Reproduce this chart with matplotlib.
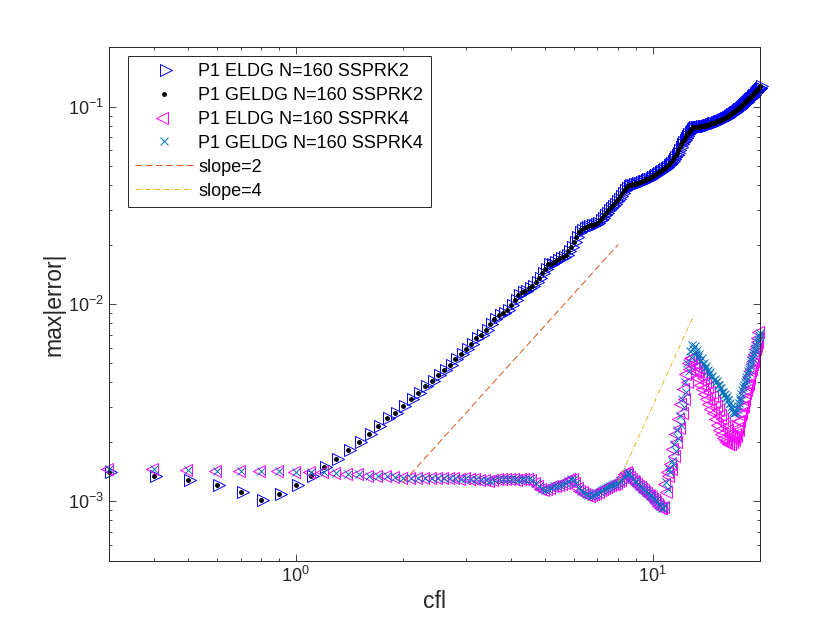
import matplotlib.pyplot as plt
import numpy as np
from matplotlib.path import Path
from matplotlib.ticker import NullFormatter

plt.rcParams['font.family'] = ['Liberation Sans', 'DejaVu Sans']
plt.rcParams['mathtext.fontset'] = 'custom'
plt.rcParams['mathtext.rm'] = 'Liberation Sans'
plt.rcParams['mathtext.it'] = 'Liberation Sans:italic'

# cfl grid (step 0.1 as seen in the marker spacing)
cfl = [0.3, 0.4, 0.5, 0.6, 0.7, 0.8, 0.9,
       1.0, 1.1, 1.2, 1.3, 1.4, 1.5, 1.6, 1.7, 1.8, 1.9,
       2.0, 2.1, 2.2, 2.3, 2.4, 2.5, 2.6, 2.7, 2.8, 2.9,
       3.0, 3.1, 3.2, 3.3, 3.4, 3.5, 3.6, 3.7, 3.8, 3.9,
       4.0, 4.1, 4.2, 4.3, 4.4, 4.5, 4.6, 4.7, 4.8, 4.9,
       5.0, 5.1, 5.2, 5.3, 5.4, 5.5, 5.6, 5.7, 5.8, 5.9,
       6.0, 6.1, 6.2, 6.3, 6.4, 6.5, 6.6, 6.7, 6.8, 6.9,
       7.0, 7.1, 7.2, 7.3, 7.4, 7.5, 7.6, 7.7, 7.8, 7.9,
       8.0, 8.1, 8.2, 8.3, 8.4, 8.5, 8.6, 8.7, 8.8, 8.9,
       9.0, 9.1, 9.2, 9.3, 9.4, 9.5, 9.6, 9.7, 9.8, 9.9,
       10.0, 10.1, 10.2, 10.3, 10.4, 10.5, 10.6, 10.7, 10.8, 10.9,
       11.0, 11.1, 11.2, 11.3, 11.4, 11.5, 11.6, 11.7, 11.8, 11.9,
       12.0, 12.1, 12.2, 12.3, 12.4, 12.5, 12.6, 12.7, 12.8, 12.9,
       13.0, 13.1, 13.2, 13.3, 13.4, 13.5, 13.6, 13.7, 13.8, 13.9,
       14.0, 14.1, 14.2, 14.3, 14.4, 14.5, 14.6, 14.7, 14.8, 14.9,
       15.0, 15.1, 15.2, 15.3, 15.4, 15.5, 15.6, 15.7, 15.8, 15.9,
       16.0, 16.1, 16.2, 16.3, 16.4, 16.5, 16.6, 16.7, 16.8, 16.9,
       17.0, 17.1, 17.2, 17.3, 17.4, 17.5, 17.6, 17.7, 17.8, 17.9,
       18.0, 18.1, 18.2, 18.3, 18.4, 18.5, 18.6, 18.7, 18.8, 18.9,
       19.0, 19.1, 19.2, 19.3, 19.4, 19.5, 19.6, 19.7, 19.8, 19.9,
       20.0]

# errors, in units of 1e-3
eldg_rk2 = [1.41, 1.34, 1.28, 1.21, 1.12, 1.02, 1.09,
            1.21, 1.35, 1.49, 1.64, 1.82, 2.00, 2.19, 2.42, 2.63, 2.81,
            3.03, 3.30, 3.55, 3.83, 4.06, 4.36, 4.64, 4.92, 5.28, 5.57,
            5.89, 6.30, 6.72, 6.98, 7.35, 7.90, 8.40, 8.80, 8.95, 9.30,
            9.89, 10.5, 11.1, 11.5, 11.6, 12.0, 12.4, 12.9, 13.6, 14.3,
            15.1, 15.9, 16.0, 16.3, 16.7, 17.1, 17.4, 17.7, 18.6, 19.5,
            20.5, 21.9, 23.1, 23.7, 24.2, 24.6, 24.8, 25.0, 25.2, 25.4,
            25.6, 26.6, 27.4, 28.2, 29.0, 29.8, 30.6, 31.4, 32.2, 33.2,
            34.2, 35.3, 36.4, 37.6, 38.8, 39.8, 40.0, 40.2, 40.4, 40.6,
            40.9, 41.2, 41.5, 41.8, 42.1, 42.5, 42.8, 43.2, 43.6, 44.0,
            44.4, 44.9, 45.4, 45.9, 46.5, 47.1, 47.7, 48.4, 49.1, 49.7,
            50.4, 51.2, 52.1, 53.1, 54.2, 55.4, 56.8, 58.4, 60.2, 62.2,
            64.5, 66.2, 68.0, 69.6, 71.2, 72.8, 74.2, 75.6, 77.0, 78.2,
            78.6, 78.8, 78.9, 79.0, 79.1, 79.2, 79.4, 79.6, 79.8, 80.0,
            80.2, 80.5, 80.8, 81.1, 81.4, 81.8, 82.2, 82.6, 83.0, 83.4,
            83.8, 84.2, 84.6, 85.0, 85.4, 85.8, 86.2, 86.7, 87.2, 87.7,
            88.3, 88.9, 89.5, 90.1, 90.8, 91.5, 92.2, 92.9, 93.6, 94.4,
            95.2, 96.0, 96.8, 97.6, 98.4, 99.2, 100, 101, 102, 103,
            104, 105, 106, 107, 108, 109, 110, 111, 112, 113,
            114, 115, 117, 118, 119, 120, 121, 123, 124, 125,
            127]

# GELDG SSPRK2 dots sit right on the ELDG SSPRK2 triangles
geldg_rk2 = list(eldg_rk2)

eldg_rk4 = [1.46, 1.45, 1.44, 1.43, 1.43, 1.42, 1.42,
            1.41, 1.41, 1.40, 1.39, 1.38, 1.37, 1.35, 1.35, 1.34, 1.33,
            1.32, 1.32, 1.31, 1.32, 1.31, 1.31, 1.32, 1.31, 1.31, 1.30,
            1.31, 1.30, 1.29, 1.28, 1.28, 1.27, 1.28, 1.29, 1.30, 1.30,
            1.30, 1.29, 1.28, 1.29, 1.30, 1.30, 1.28, 1.24, 1.19, 1.15,
            1.14, 1.15, 1.17, 1.19, 1.20, 1.21, 1.22, 1.24, 1.27, 1.30,
            1.29, 1.24, 1.17, 1.13, 1.11, 1.09, 1.08, 1.07, 1.08, 1.09,
            1.10, 1.12, 1.14, 1.15, 1.17, 1.18, 1.19, 1.21, 1.22, 1.23,
            1.24, 1.26, 1.28, 1.33, 1.38, 1.40, 1.37, 1.33, 1.30, 1.27,
            1.25, 1.22, 1.20, 1.18, 1.16, 1.14, 1.12, 1.10, 1.08, 1.06,
            1.05, 1.03, 1.01, 0.99, 0.97, 0.95, 0.93, 0.92, 0.94, 1.22,
            1.12, 1.40, 1.35, 1.55, 1.45, 1.85, 1.70, 2.20, 2.00, 2.60,
            2.35, 3.10, 2.80, 3.70, 3.30, 4.40, 4.00, 5.00, 4.70, 5.30,
            5.30, 4.90, 5.00, 4.50, 4.80, 4.20, 4.60, 3.90, 4.40, 3.70,
            4.20, 3.50, 4.00, 3.30, 3.80, 3.10, 3.60, 2.95, 3.40, 2.80,
            3.20, 2.60, 3.05, 2.45, 2.90, 2.30, 2.75, 2.20, 2.60, 2.10,
            2.50, 2.05, 2.40, 2.00, 2.30, 1.95, 2.20, 1.95, 2.15, 2.00,
            2.10, 2.05, 2.20, 2.15, 2.35, 2.30, 2.55, 2.55, 2.75, 2.80,
            3.00, 3.05, 3.25, 3.35, 3.55, 3.65, 3.85, 3.95, 4.20, 4.30,
            4.55, 4.70, 4.95, 5.15, 5.40, 5.60, 5.90, 6.15, 6.45, 6.75,
            7.20]

geldg_rk4 = [1.46, 1.45, 1.44, 1.43, 1.43, 1.42, 1.42,
             1.41, 1.41, 1.40, 1.39, 1.38, 1.37, 1.35, 1.35, 1.34, 1.33,
             1.32, 1.32, 1.31, 1.32, 1.31, 1.31, 1.32, 1.31, 1.31, 1.30,
             1.31, 1.30, 1.29, 1.28, 1.28, 1.27, 1.28, 1.29, 1.30, 1.30,
             1.30, 1.29, 1.28, 1.29, 1.30, 1.30, 1.28, 1.24, 1.19, 1.15,
             1.14, 1.15, 1.17, 1.19, 1.20, 1.21, 1.22, 1.24, 1.27, 1.30,
             1.29, 1.24, 1.17, 1.13, 1.11, 1.09, 1.08, 1.07, 1.08, 1.09,
             1.10, 1.12, 1.14, 1.15, 1.17, 1.18, 1.19, 1.21, 1.22, 1.23,
             1.24, 1.26, 1.28, 1.33, 1.38, 1.40, 1.37, 1.33, 1.30, 1.27,
             1.25, 1.22, 1.20, 1.18, 1.16, 1.14, 1.12, 1.10, 1.08, 1.06,
             1.05, 1.03, 1.01, 0.99, 0.97, 0.95, 0.93, 0.92, 0.95, 1.25,
             1.15, 1.45, 1.40, 1.60, 1.55, 1.95, 1.80, 2.30, 2.10, 2.70,
             2.45, 3.30, 3.00, 4.00, 3.60, 5.00, 4.60, 5.80, 5.40, 6.20,
             5.90, 6.10, 5.60, 5.85, 5.40, 5.55, 5.15, 5.30, 4.95, 5.05,
             4.75, 4.85, 4.60, 4.65, 4.40, 4.50, 4.25, 4.30, 4.10, 4.15,
             4.00, 4.05, 3.90, 3.90, 3.75, 3.75, 3.60, 3.60, 3.45, 3.50,
             3.35, 3.40, 3.25, 3.25, 3.10, 3.15, 3.00, 2.95, 2.85, 2.80,
             2.80, 2.85, 2.95, 3.05, 3.15, 3.25, 3.35, 3.50, 3.65, 3.80,
             3.90, 4.00, 4.10, 4.25, 4.40, 4.55, 4.70, 4.85, 5.00, 5.20,
             5.35, 5.50, 5.65, 5.85, 6.00, 6.20, 6.40, 6.60, 6.80, 6.95,
             7.10]

# reference slope lines
slope2_x = [2.0, 8.0]
slope2_y = [1.25e-3, 2.0e-2]
slope4_x = [8.0, 13.0]
slope4_y = [1.25e-3, 8.7e-3]

labels = ['P1 ELDG N=160 SSPRK2', 'P1 GELDG N=160 SSPRK2',
          'P1 ELDG N=160 SSPRK4', 'P1 GELDG N=160 SSPRK4',
          'slope=2', 'slope=4']

dark = (0.15, 0.15, 0.15)

# MATLAB-like triangles, centred on their centroid
tri_right = Path([(-1, -1.5), (2, 0), (-1, 1.5), (-1, -1.5)],
                 [Path.MOVETO, Path.LINETO, Path.LINETO, Path.CLOSEPOLY])
tri_left = Path([(1, -1.5), (-2, 0), (1, 1.5), (1, -1.5)],
                [Path.MOVETO, Path.LINETO, Path.LINETO, Path.CLOSEPOLY])

fig = plt.figure(figsize=(8.4, 6.3), dpi=100)
ax = fig.add_axes([0.13, 0.11, 0.775, 0.815])

x = np.array(cfl)
ax.plot(x, np.array(eldg_rk2) * 1e-3, ls='none', marker=tri_right, ms=11.5,
        mfc='none', mec=(0, 0, 1), mew=0.7, clip_on=False, label=labels[0])
ax.plot(x, np.array(geldg_rk2) * 1e-3, ls='none', marker='.', ms=5,
        color='k', clip_on=False, label=labels[1])
ax.plot(x, np.array(eldg_rk4) * 1e-3, ls='none', marker=tri_left, ms=11.5,
        mfc='none', mec=(1, 0, 1), mew=0.7, clip_on=False, label=labels[2])
ax.plot(x, np.array(geldg_rk4) * 1e-3, ls='none', marker='x', ms=6,
        mew=0.7, color=(0, 0.447, 0.741), clip_on=False, label=labels[3])
ax.plot(slope2_x, slope2_y, color=(0.85, 0.325, 0.098), lw=0.7,
        dashes=(7, 3.5), label=labels[4])
ax.plot(slope4_x, slope4_y, color=(0.929, 0.694, 0.125), lw=0.7,
        dashes=(5, 2, 1, 2), label=labels[5])

ax.set_xscale('log')
ax.set_yscale('log')
ax.set_xlim(0.3, 20)
ax.set_ylim(5e-4, 0.2)
ax.xaxis.set_minor_formatter(NullFormatter())
ax.yaxis.set_minor_formatter(NullFormatter())

ax.tick_params(which='both', direction='in', top=True, right=True,
               color=dark, labelcolor=dark, labelsize=13, width=0.6)
ax.tick_params(which='major', length=5)
ax.tick_params(which='minor', length=2.5)
for sp in ax.spines.values():
    sp.set_color(dark)
    sp.set_linewidth(0.7)

ax.set_xlabel('cfl', fontsize=16.5, color=dark, labelpad=3)
ax.set_ylabel('max|error|', fontsize=16.5, color=dark, labelpad=2)

leg = ax.legend(loc='upper left', bbox_to_anchor=(128 / 840, 1 - 56 / 630),
                bbox_transform=fig.transFigure, borderaxespad=0, fontsize=13,
                fancybox=False, edgecolor=dark, framealpha=1,
                handlelength=3.2, handletextpad=0.3, borderpad=0.4,
                labelspacing=0.38, numpoints=1)
leg.get_frame().set_linewidth(0.7)

fig.savefig('out.png', dpi=100)
